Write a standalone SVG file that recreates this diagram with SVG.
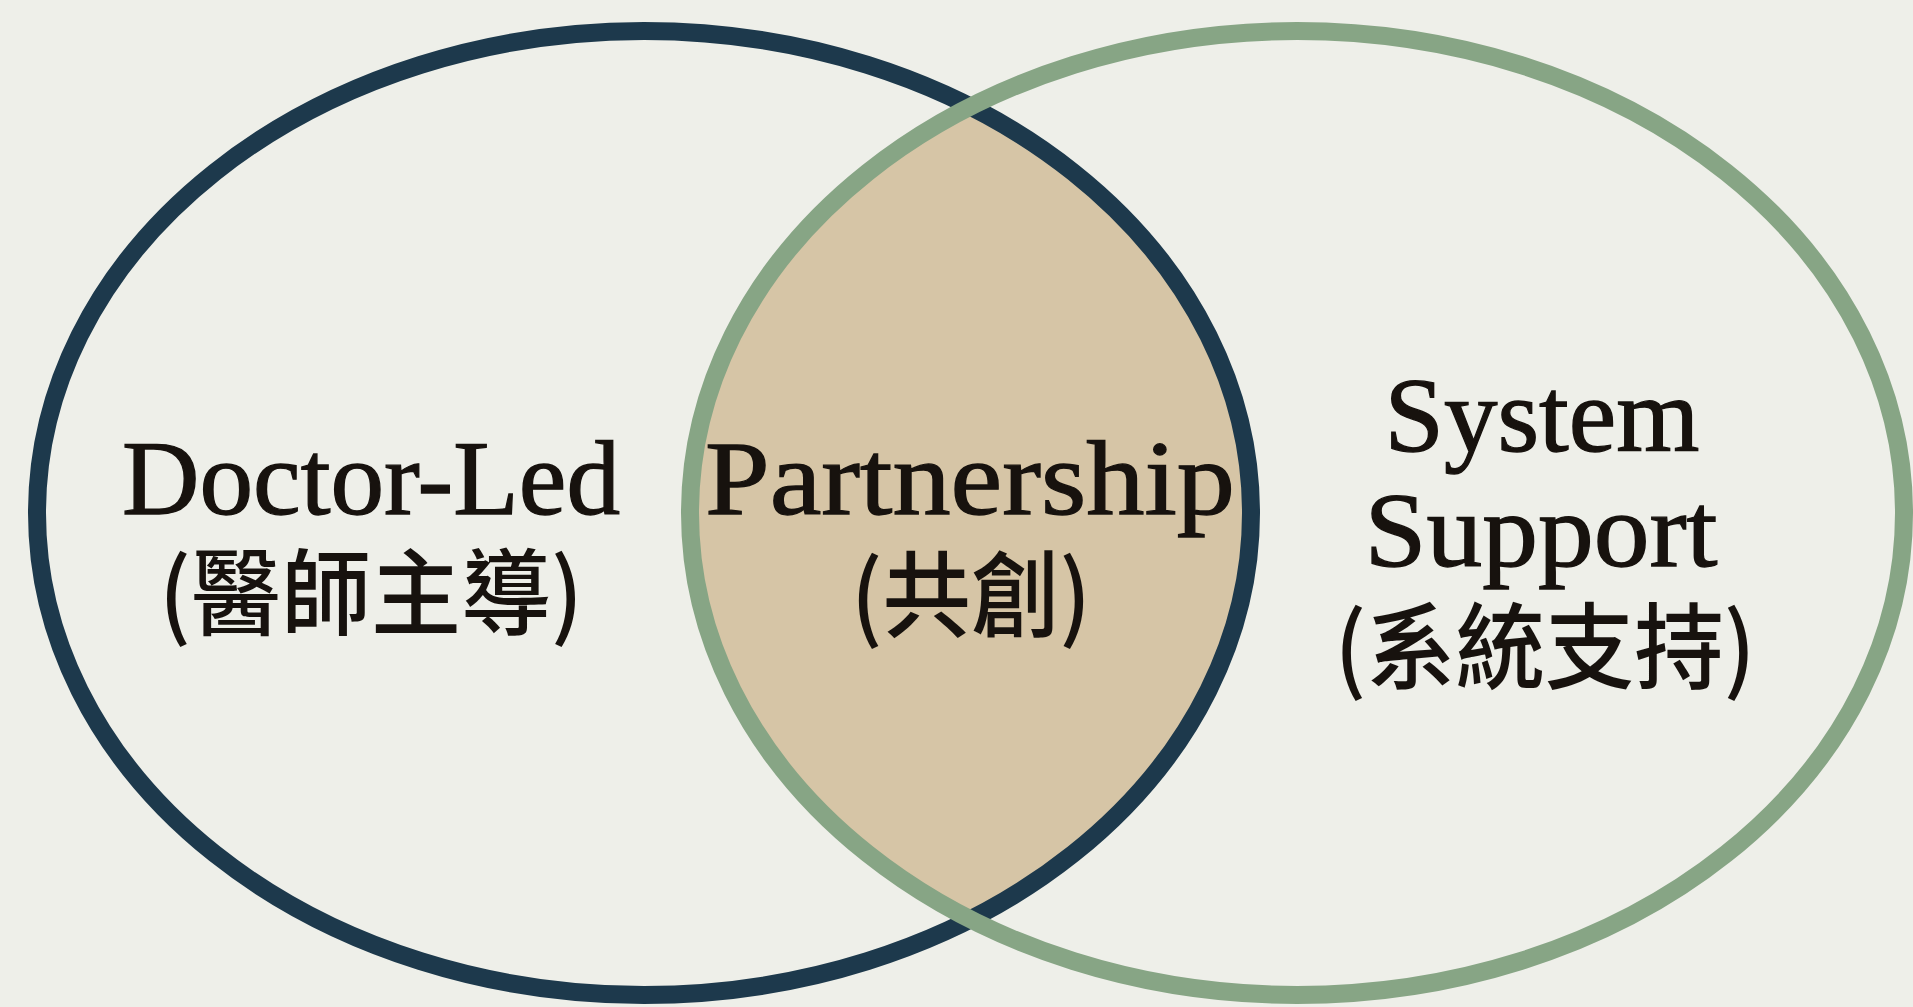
<svg xmlns="http://www.w3.org/2000/svg" width="1913" height="1007" viewBox="0 0 1913 1007">
<style>
.en{font-family:"Liberation Serif","DejaVu Serif",serif;font-size:106px;fill:#17120e;stroke:#17120e;stroke-width:1.3;text-anchor:middle}
.zh{font-family:"Noto Sans CJK TC","Noto Sans CJK SC",sans-serif;font-size:94px;font-weight:500;fill:#17120e;text-anchor:middle}
.ring{fill:none;stroke-width:18}
</style>
<defs>
<clipPath id="clipRight"><ellipse cx="1297" cy="513" rx="607" ry="482"/></clipPath>
</defs>
<rect width="1913" height="1007" fill="#eeefe9"/>
<g id="overlap">
<ellipse cx="644" cy="513" rx="607" ry="482" fill="#d6c5a6" clip-path="url(#clipRight)"/>
</g>
<g id="doctor-led">
<ellipse class="ring" cx="644" cy="513" rx="607" ry="482" stroke="#1d394c"/>
<text class="en" x="371" y="514" textLength="498" lengthAdjust="spacingAndGlyphs">Doctor-Led</text>
<text class="zh" x="371" y="628" textLength="424" lengthAdjust="spacingAndGlyphs">(醫師主導)</text>
</g>
<g id="system-support">
<ellipse class="ring" cx="1297" cy="513" rx="607" ry="482" stroke="#87a585"/>
<text class="en" x="1542" y="451" textLength="315" lengthAdjust="spacingAndGlyphs">System</text>
<text class="en" x="1541" y="566" textLength="353" lengthAdjust="spacingAndGlyphs">Support</text>
<text class="zh" x="1545" y="682" textLength="421" lengthAdjust="spacingAndGlyphs">(系統支持)</text>
</g>
<g id="partnership">
<text class="en" x="970" y="514" textLength="530" lengthAdjust="spacingAndGlyphs">Partnership</text>
<text class="zh" x="971" y="630" textLength="240" lengthAdjust="spacingAndGlyphs">(共創)</text>
</g>
<g id="connectors"/>
</svg>
